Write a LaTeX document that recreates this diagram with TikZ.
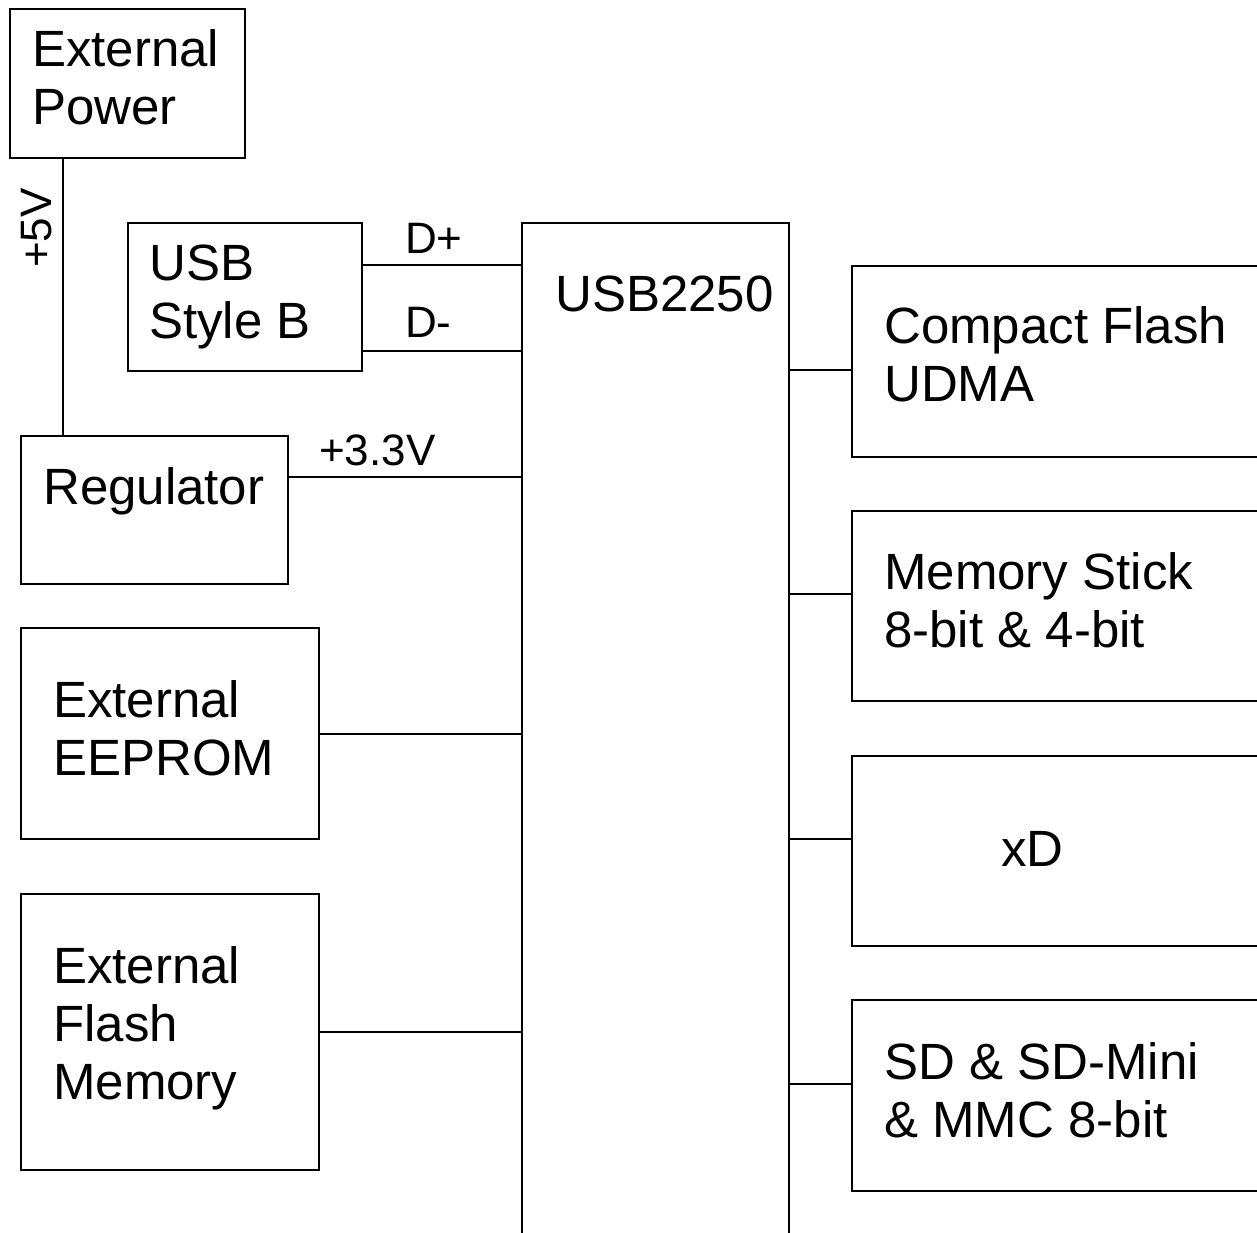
\documentclass[tikz,border=0pt]{standalone}
\usepackage{fontspec}
\setmainfont{Liberation Sans}
\begin{document}
\begin{tikzpicture}[x=1pt,y=-1pt,
  box/.style={draw=black,line width=2pt,rectangle,inner sep=0pt,anchor=north west},
  txt/.style={inner sep=0pt,anchor=base west,align=left,font=\fontsize{51}{58}\selectfont},
  lbl/.style={inner sep=0pt,anchor=base west,font=\fontsize{44}{50}\selectfont},
  wire/.style={line width=2pt}]
\useasboundingbox (0,0) rectangle (1257,1232);
\clip (0,0) rectangle (1257,1232);
% boxes
\node[box,minimum width=235pt,minimum height=149pt] (extpow) at (9,8) {};
\node[box,minimum width=234pt,minimum height=148pt] (usbb) at (127,222) {};
\node[box,minimum width=267pt,minimum height=1060pt] (chip) at (521,222) {};
\node[box,minimum width=267pt,minimum height=148pt] (reg) at (20,435) {};
\node[box,minimum width=298pt,minimum height=211pt] (eeprom) at (20,627) {};
\node[box,minimum width=298pt,minimum height=276pt] (flash) at (20,893) {};
\node[box,minimum width=500pt,minimum height=191pt] (cf) at (851,265) {};
\node[box,minimum width=500pt,minimum height=190pt] (ms) at (851,510) {};
\node[box,minimum width=500pt,minimum height=190pt] (xd) at (851,755) {};
\node[box,minimum width=500pt,minimum height=191pt] (sd) at (851,999) {};
% texts (base anchor = baseline of the last line)
\node[txt] (textpow) at (32,124) {External\\Power};
\node[txt] (tusbb) at (149,338) {USB\\Style B};
\node[txt] (tchip) at (555,311) {USB2250};
\node[txt] (treg) at (43,504) {Regulator};
\node[txt] (teeprom) at (53,775) {External\\EEPROM};
\node[txt] (tflash) at (53,1099) {External\\Flash\\Memory};
\node[txt] (tcf) at (884,401) {Compact Flash\\UDMA};
\node[txt] (tms) at (884,647) {Memory Stick\\8-bit \& 4-bit};
\node[txt] (txd) at (1001,866) {xD};
\node[txt] (tsd) at (884,1137) {SD \& SD-Mini\\\& MMC 8-bit};
% connectors
\draw[wire] ([xshift=54pt]extpow.south west) -- ([xshift=43pt]reg.north west);
\draw[wire] ([yshift=-43pt]usbb.north east) -- ([yshift=-43pt]usbb.north east -| chip.west);
\draw[wire] ([yshift=21pt]usbb.south east) -- ([yshift=21pt]usbb.south east -| chip.west);
\draw[wire] ([yshift=-42pt]reg.north east) -- ([yshift=-42pt]reg.north east -| chip.west);
\draw[wire] (eeprom.east) -- (eeprom.east -| chip.west);
\draw[wire] (flash.east) -- (flash.east -| chip.west);
\draw[wire] ([yshift=-105pt]cf.north west) -- ([yshift=-105pt]cf.north west -| chip.east);
\draw[wire] ([yshift=-84pt]ms.north west) -- ([yshift=-84pt]ms.north west -| chip.east);
\draw[wire] ([yshift=-84pt]xd.north west) -- ([yshift=-84pt]xd.north west -| chip.east);
\draw[wire] ([yshift=-85pt]sd.north west) -- ([yshift=-85pt]sd.north west -| chip.east);
% labels
\node[lbl,anchor=center,rotate=90] (l5v) at (37,228) {+5V};
\node[lbl] (ldp) at (405,253) {D+};
\node[lbl] (ldm) at (405,337) {D-};
\node[lbl] (l33) at (319,465) {+3.3V};
\end{tikzpicture}
\end{document}
